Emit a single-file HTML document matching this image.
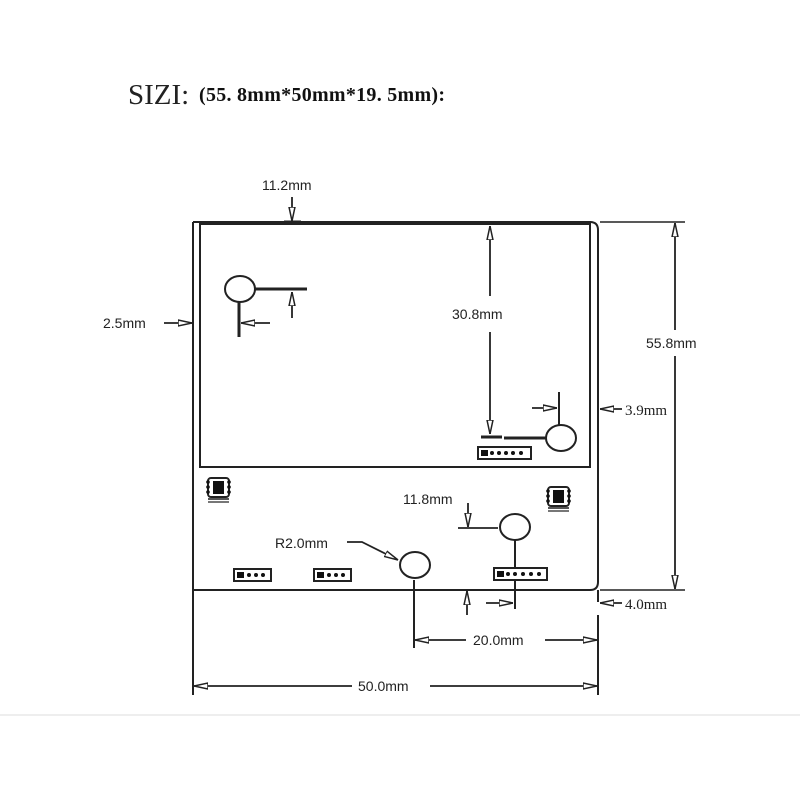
<!DOCTYPE html>
<html><head><meta charset="utf-8"><style>
html,body{margin:0;padding:0;background:#fff;}
svg{display:block}
</style></head><body>
<svg width="800" height="800" viewBox="0 0 800 800" xmlns="http://www.w3.org/2000/svg">
<defs>
<marker id="a" viewBox="0 0 14 8" refX="14" refY="4" markerWidth="14" markerHeight="8" markerUnits="userSpaceOnUse" orient="auto">
<path d="M0,1 L14,4 L0,7 Z" fill="#fff" stroke="#222" stroke-width="1.5"/>
</marker>
<g id="chip">
<rect x="0" y="0" width="27" height="26" fill="#fff"/>
<rect x="3" y="1" width="21" height="19" rx="3" fill="#fff" stroke="#222" stroke-width="2"/>
<rect x="8" y="4" width="11" height="13" fill="#111"/>
<circle cx="3" cy="5" r="1.8" fill="#111"/><circle cx="3" cy="10" r="1.8" fill="#111"/><circle cx="3" cy="15" r="1.8" fill="#111"/>
<circle cx="24" cy="5" r="1.8" fill="#111"/><circle cx="24" cy="10" r="1.8" fill="#111"/><circle cx="24" cy="15" r="1.8" fill="#111"/>
<rect x="3" y="21" width="21" height="2" fill="#555"/><rect x="3" y="24" width="21" height="2" fill="#777"/>
</g>
</defs>
<text x="128" y="104" font-family="Liberation Serif, serif" font-size="29" fill="#222">SIZI:</text>
<text x="199" y="101" font-family="Liberation Serif, serif" font-size="20" font-weight="bold" fill="#111" textLength="246">(55. 8mm*50mm*19. 5mm):</text>

<g stroke="#222" fill="none" stroke-width="2">
<path d="M193,222 L590,222 Q598,222 598,230 L598,582 Q598,590 590,590 L193,590"/>
<line x1="193" y1="222" x2="193" y2="695"/>
<line x1="598" y1="590" x2="598" y2="602"/>
<line x1="598" y1="615" x2="598" y2="695"/>
<rect x="200" y="224" width="390" height="243"/>
<line x1="600" y1="222" x2="685" y2="222" stroke-width="1.5"/>
<line x1="600" y1="590" x2="685" y2="590" stroke-width="1.5"/>
</g>

<g stroke="#222" fill="none" stroke-width="1.8">
<line x1="675" y1="330" x2="675" y2="223" marker-end="url(#a)"/>
<line x1="675" y1="356" x2="675" y2="589" marker-end="url(#a)"/>
<line x1="490" y1="296" x2="490" y2="226" marker-end="url(#a)"/>
<line x1="490" y1="332" x2="490" y2="434" marker-end="url(#a)"/>
<line x1="352" y1="686" x2="194" y2="686" marker-end="url(#a)"/>
<line x1="430" y1="686" x2="597" y2="686" marker-end="url(#a)"/>
<line x1="466" y1="640" x2="415" y2="640" marker-end="url(#a)"/>
<line x1="545" y1="640" x2="597" y2="640" marker-end="url(#a)"/>
<line x1="414" y1="580" x2="414" y2="648" stroke-width="2"/>
<line x1="292" y1="197" x2="292" y2="221" marker-end="url(#a)"/>
<line x1="284" y1="222" x2="301" y2="222" stroke-width="3"/>
<line x1="164" y1="323" x2="192" y2="323" marker-end="url(#a)"/>
<line x1="622" y1="409" x2="600" y2="409" marker-end="url(#a)"/>
<line x1="622" y1="603" x2="600" y2="603" marker-end="url(#a)"/>
<line x1="255" y1="289" x2="307" y2="289" stroke-width="3"/>
<line x1="239" y1="301" x2="239" y2="337" stroke-width="3"/>
<line x1="292" y1="318" x2="292" y2="292" marker-end="url(#a)"/>
<line x1="270" y1="323" x2="241" y2="323" marker-end="url(#a)"/>
<line x1="559" y1="392" x2="559" y2="426" stroke-width="2"/>
<line x1="532" y1="408" x2="557" y2="408" marker-end="url(#a)"/>
<line x1="504" y1="438" x2="546" y2="438" stroke-width="3"/>
<line x1="481" y1="437" x2="502" y2="437" stroke-width="3"/>
<path d="M347,542 L362,542 L398,560" marker-end="url(#a)"/>
<line x1="458" y1="528" x2="498" y2="528"/>
<line x1="468" y1="503" x2="468" y2="527" marker-end="url(#a)"/>
<line x1="515" y1="540" x2="515" y2="609" stroke-width="2"/>
<line x1="486" y1="603" x2="513" y2="603" marker-end="url(#a)"/>
<line x1="467" y1="615" x2="467" y2="591" marker-end="url(#a)"/>
<line x1="459" y1="590" x2="476" y2="590" stroke-width="2"/>
</g>

<g stroke="#222" fill="#fff" stroke-width="2">
<ellipse cx="240" cy="289" rx="15" ry="13"/>
<ellipse cx="561" cy="438" rx="15" ry="13"/>
<ellipse cx="515" cy="527" rx="15" ry="13"/>
<ellipse cx="415" cy="565" rx="15" ry="13"/>
</g>

<g>
<rect x="478" y="447" width="53" height="12" fill="#fff" stroke="#222" stroke-width="2"/>
<rect x="481" y="450" width="7" height="6" fill="#111"/>
<g fill="#111"><circle cx="492" cy="453" r="2"/><circle cx="499" cy="453" r="2"/><circle cx="506" cy="453" r="2"/><circle cx="513" cy="453" r="2"/><circle cx="521" cy="453" r="2"/></g>
<rect x="234" y="569" width="37" height="12" fill="#fff" stroke="#222" stroke-width="2"/>
<rect x="237" y="572" width="7" height="6" fill="#111"/>
<g fill="#111"><circle cx="249" cy="575" r="2"/><circle cx="256" cy="575" r="2"/><circle cx="263" cy="575" r="2"/></g>
<rect x="314" y="569" width="37" height="12" fill="#fff" stroke="#222" stroke-width="2"/>
<rect x="317" y="572" width="7" height="6" fill="#111"/>
<g fill="#111"><circle cx="329" cy="575" r="2"/><circle cx="336" cy="575" r="2"/><circle cx="343" cy="575" r="2"/></g>
<rect x="494" y="568" width="53" height="12" fill="#fff" stroke="#222" stroke-width="2"/>
<rect x="497" y="571" width="7" height="6" fill="#111"/>
<g fill="#111"><circle cx="508" cy="574" r="2"/><circle cx="515" cy="574" r="2"/><circle cx="523" cy="574" r="2"/><circle cx="531" cy="574" r="2"/><circle cx="539" cy="574" r="2"/></g>
</g>
<use href="#chip" x="205" y="477"/>
<use href="#chip" x="545" y="486"/>

<g font-family="Liberation Sans, sans-serif" font-size="14" fill="#222">
<text x="262" y="190">11.2mm</text>
<text x="452" y="319">30.8mm</text>
<text x="646" y="348">55.8mm</text>
<text x="625" y="415" font-family="Liberation Serif, serif" font-size="15">3.9mm</text>
<text x="103" y="328">2.5mm</text>
<text x="403" y="504">11.8mm</text>
<text x="275" y="548">R2.0mm</text>
<text x="473" y="645">20.0mm</text>
<text x="358" y="691">50.0mm</text>
<text x="625" y="609" font-family="Liberation Serif, serif" font-size="15">4.0mm</text>
</g>
<line x1="0" y1="715" x2="800" y2="715" stroke="#ddd" stroke-width="1"/>
</svg>
</body></html>
